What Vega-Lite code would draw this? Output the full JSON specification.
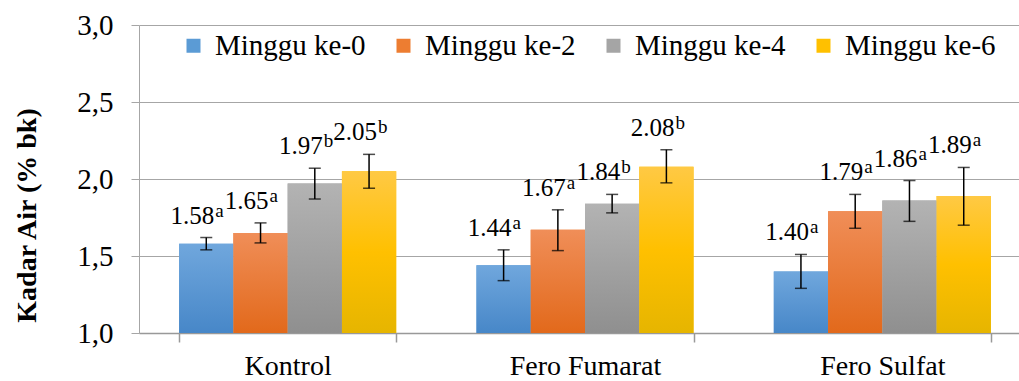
{
  "$schema": "https://vega.github.io/schema/vega-lite/v6.json",
  "width": 880,
  "height": 308,
  "autosize": {"type": "none"},
  "padding": {"left": 139, "top": 25, "right": 0, "bottom": 48},
  "background": "white",
  "config": {
    "font": "Liberation Serif",
    "view": {"stroke": null},
    "text": {"font": "Liberation Serif"},
    "axis": {"labelFont": "Liberation Serif", "titleFont": "Liberation Serif"},
    "legend": {"labelFont": "Liberation Serif", "titleFont": "Liberation Serif"}
  },
  "data": {
    "values": [
      {"group": "Kontrol", "series": "Minggu ke-0", "value": 1.58, "lo": 1.54, "hi": 1.62, "num": "1.58", "sup": "a"},
      {"group": "Kontrol", "series": "Minggu ke-2", "value": 1.65, "lo": 1.585, "hi": 1.715, "num": "1.65", "sup": "a"},
      {"group": "Kontrol", "series": "Minggu ke-4", "value": 1.97, "lo": 1.87, "hi": 2.07, "num": "1.97", "sup": "b"},
      {"group": "Kontrol", "series": "Minggu ke-6", "value": 2.05, "lo": 1.94, "hi": 2.16, "num": "2.05", "sup": "b"},
      {"group": "Fero Fumarat", "series": "Minggu ke-0", "value": 1.44, "lo": 1.34, "hi": 1.54, "num": "1.44", "sup": "a"},
      {"group": "Fero Fumarat", "series": "Minggu ke-2", "value": 1.67, "lo": 1.535, "hi": 1.8, "num": "1.67", "sup": "a"},
      {"group": "Fero Fumarat", "series": "Minggu ke-4", "value": 1.84, "lo": 1.78, "hi": 1.9, "num": "1.84", "sup": "b"},
      {"group": "Fero Fumarat", "series": "Minggu ke-6", "value": 2.08, "lo": 1.975, "hi": 2.19, "num": "2.08", "sup": "b"},
      {"group": "Fero Sulfat", "series": "Minggu ke-0", "value": 1.4, "lo": 1.29, "hi": 1.51, "num": "1.40", "sup": "a"},
      {"group": "Fero Sulfat", "series": "Minggu ke-2", "value": 1.79, "lo": 1.68, "hi": 1.9, "num": "1.79", "sup": "a"},
      {"group": "Fero Sulfat", "series": "Minggu ke-4", "value": 1.86, "lo": 1.725, "hi": 1.99, "num": "1.86", "sup": "a"},
      {"group": "Fero Sulfat", "series": "Minggu ke-6", "value": 1.89, "lo": 1.7, "hi": 2.075, "num": "1.89", "sup": "a"}
    ]
  },
  "encoding": {
    "x": {
      "field": "group",
      "type": "nominal",
      "sort": ["Kontrol", "Fero Fumarat", "Fero Sulfat"],
      "scale": {"range": [0, 892], "paddingInner": 0.27, "paddingOuter": 0.135},
      "axis": {
        "title": null,
        "labelAngle": 0,
        "labelFont": "Liberation Serif",
        "labelFontSize": 28,
        "labelColor": "black",
        "labelPadding": 10,
        "tickBand": "extent",
        "tickSize": 9,
        "tickColor": "#999999",
        "tickWidth": 1.5,
        "domainColor": "#999999",
        "domainWidth": 1.5,
        "grid": false
      }
    },
    "xOffset": {
      "field": "series",
      "type": "nominal",
      "sort": ["Minggu ke-0", "Minggu ke-2", "Minggu ke-4", "Minggu ke-6"],
      "scale": {"paddingInner": 0, "paddingOuter": 0}
    },
    "y": {
      "field": "value",
      "type": "quantitative",
      "title": "Kadar Air (% bk)",
      "scale": {"domain": [1, 3], "zero": false, "nice": false},
      "axis": {
        "values": [1, 1.5, 2, 2.5, 3],
        "labelExpr": "replace(format(datum.value, '.1f'), '.', ',')",
        "labelFont": "Liberation Serif",
        "labelFontSize": 29,
        "labelColor": "black",
        "labelPadding": 18,
        "tickSize": 8,
        "tickColor": "#a6a6a6",
        "domainColor": "#a6a6a6",
        "gridColor": "#a6a6a6",
        "gridWidth": 1,
        "title": "Kadar Air (% bk)",
        "titleFont": "Liberation Serif",
        "titleFontSize": 28,
        "titleFontWeight": "bold",
        "titleColor": "black",
        "titleAngle": -90,
        "titleX": -104,
        "titleY": 190,
        "titleAlign": "center",
        "titleBaseline": "alphabetic"
      }
    }
  },
  "layer": [
    {
      "mark": {"type": "bar"},
      "encoding": {
        "y2": {"datum": 1},
        "color": {
          "field": "series",
          "type": "nominal",
          "sort": ["Minggu ke-0", "Minggu ke-2", "Minggu ke-4", "Minggu ke-6"],
          "scale": {"range": ["#5b9bd5", "#ed7d31", "#a5a5a5", "#ffc000"]},
          "legend": {
            "orient": "none",
            "legendX": 40,
            "legendY": 6,
            "direction": "horizontal",
            "columns": 4,
            "title": null,
            "labelFont": "Liberation Serif",
            "labelFontSize": 29,
            "labelColor": "black",
            "symbolType": "square",
            "symbolSize": 196,
            "symbolStrokeWidth": 0,
            "symbolOpacity": 1,
            "labelOffset": 7,
            "columnPadding": 23,
            "padding": 0
          }
        }
      }
    },
    {
      "transform": [{"filter": "datum.series === 'Minggu ke-0'"}],
      "mark": {"type": "bar", "color": {"gradient": "linear", "x1": 0, "y1": 0, "x2": 0, "y2": 1, "stops": [{"offset": 0, "color": "#70a7dd"}, {"offset": 1, "color": "#4787c8"}]}},
      "encoding": {"y2": {"datum": 1}}
    },
    {
      "transform": [{"filter": "datum.series === 'Minggu ke-2'"}],
      "mark": {"type": "bar", "color": {"gradient": "linear", "x1": 0, "y1": 0, "x2": 0, "y2": 1, "stops": [{"offset": 0, "color": "#f08e58"}, {"offset": 1, "color": "#e2691b"}]}},
      "encoding": {"y2": {"datum": 1}}
    },
    {
      "transform": [{"filter": "datum.series === 'Minggu ke-4'"}],
      "mark": {"type": "bar", "color": {"gradient": "linear", "x1": 0, "y1": 0, "x2": 0, "y2": 1, "stops": [{"offset": 0, "color": "#b3b3b3"}, {"offset": 1, "color": "#8f8f8f"}]}},
      "encoding": {"y2": {"datum": 1}}
    },
    {
      "transform": [{"filter": "datum.series === 'Minggu ke-6'"}],
      "mark": {"type": "bar", "color": {"gradient": "linear", "x1": 0, "y1": 0, "x2": 0, "y2": 1, "stops": [{"offset": 0, "color": "#ffc944"}, {"offset": 0.5, "color": "#ffc000"}, {"offset": 1, "color": "#e6b500"}]}},
      "encoding": {"y2": {"datum": 1}}
    },
    {
      "mark": {"type": "rule", "color": "black", "strokeWidth": 1.5},
      "encoding": {"y": {"field": "lo", "type": "quantitative", "title": "Kadar Air (% bk)"}, "y2": {"field": "hi"}}
    },
    {
      "mark": {"type": "tick", "color": "black", "size": 12, "thickness": 1.5, "orient": "horizontal"},
      "encoding": {"y": {"field": "lo", "type": "quantitative", "title": "Kadar Air (% bk)"}}
    },
    {
      "mark": {"type": "tick", "color": "black", "size": 12, "thickness": 1.5, "orient": "horizontal"},
      "encoding": {"y": {"field": "hi", "type": "quantitative", "title": "Kadar Air (% bk)"}}
    },
    {
      "mark": {"type": "text", "font": "Liberation Serif", "fontSize": 25, "color": "black", "align": "right", "baseline": "alphabetic", "dx": 8, "dy": -14},
      "encoding": {"y": {"field": "hi", "type": "quantitative", "title": "Kadar Air (% bk)"}, "text": {"field": "num"}}
    },
    {
      "mark": {"type": "text", "font": "Liberation Serif", "fontSize": 19, "color": "black", "align": "left", "baseline": "alphabetic", "dx": 9, "dy": -21},
      "encoding": {"y": {"field": "hi", "type": "quantitative", "title": "Kadar Air (% bk)"}, "text": {"field": "sup"}}
    }
  ]
}
